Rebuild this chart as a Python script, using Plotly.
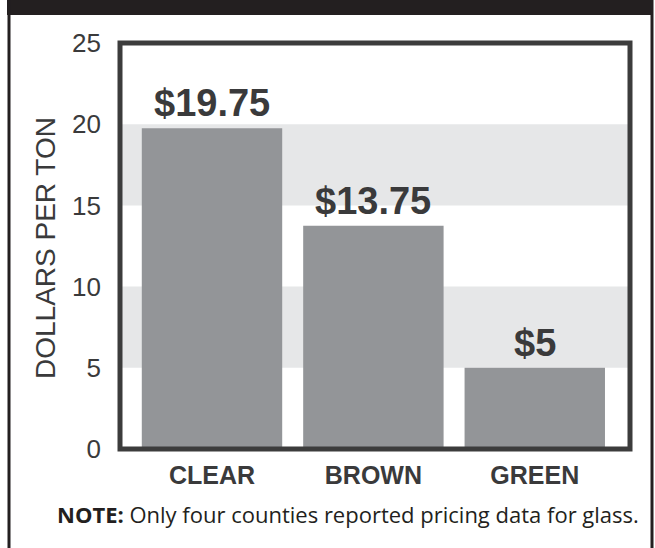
import plotly.graph_objects as go

categories = ["CLEAR", "BROWN", "GREEN"]
prices = [19.75, 13.75, 5]
price_labels = ["$19.75", "$13.75", "$5"]
y_ticks = [0, 5, 10, 15, 20, 25]
bands = [(5, 10), (15, 20)]
note_bold = "NOTE:"
note_text = "Only four counties reported pricing data for glass."
y_title = "DOLLARS PER TON"

W, H = 655, 548
L, R, T, B = 120, 25, 43, 99
pw, ph = W - L - R, H - T - B

def px(x):
    return (x - L) / pw

def py(y):
    return (H - B - y) / ph

fig = go.Figure()
fig.add_trace(go.Bar(
    x=categories, y=prices, width=0.87,
    marker=dict(color="#939598", line=dict(width=0)),
    hoverinfo="skip",
))

shapes = []
for lo, hi in bands:
    shapes.append(dict(type="rect", xref="paper", yref="y", x0=0, x1=1, y0=lo, y1=hi,
                       fillcolor="#e6e7e8", line=dict(width=0), layer="below"))
# plot frame
shapes.append(dict(type="rect", xref="paper", yref="paper", x0=0, x1=1, y0=0, y1=1,
                   line=dict(color="#3c3c3c", width=5), layer="above"))
# outer black top band and side borders
shapes.append(dict(type="rect", xref="paper", yref="paper", x0=px(7), x1=px(653),
                   y0=py(15), y1=py(-5), fillcolor="#231f20", line=dict(width=0), layer="above"))
shapes.append(dict(type="rect", xref="paper", yref="paper", x0=px(7.5), x1=px(10.5),
                   y0=py(560), y1=py(0), fillcolor="#231f20", line=dict(width=0), layer="above"))
shapes.append(dict(type="rect", xref="paper", yref="paper", x0=px(650.5), x1=px(653.5),
                   y0=py(560), y1=py(0), fillcolor="#231f20", line=dict(width=0), layer="above"))

annotations = []
for c, v, lab in zip(categories, prices, price_labels):
    annotations.append(dict(x=c, y=v, xref="x", yref="y", text=lab, showarrow=False,
                            yanchor="bottom", yshift=2,
                            font=dict(family="Liberation Sans, Arial", size=38, color="#3a3a3b", weight="bold")))
annotations.append(dict(x=px(45), y=py(248), xref="paper", yref="paper", text=y_title, textangle=-90,
                        showarrow=False, xanchor="center", yanchor="middle",
                        font=dict(family="Liberation Sans, Arial", size=28, color="#3a3a3b")))
annotations.append(dict(x=px(348), y=py(514), xref="paper", yref="paper",
                        text=f"<b>{note_bold}</b> {note_text}", showarrow=False,
                        xanchor="center", yanchor="middle",
                        font=dict(family="Open Sans, Noto Sans", size=22, color="#231f20")))

fig.update_layout(
    width=W, height=H,
    margin=dict(l=L, r=R, t=T, b=B, autoexpand=False),
    paper_bgcolor="white", plot_bgcolor="white",
    showlegend=False, bargap=0.13,
    shapes=shapes, annotations=annotations,
)
fig.update_xaxes(range=[-0.57, 2.59], showgrid=False, zeroline=False, showline=False,
                 ticks="", ticklabelstandoff=9,
                 tickfont=dict(family="Liberation Sans, Arial", size=25, color="#3a3a3b", weight="bold"))
fig.update_yaxes(range=[0, 25], tickvals=y_ticks, showgrid=False, zeroline=False, showline=False,
                 ticks="", ticklabelstandoff=18,
                 tickfont=dict(family="Liberation Sans, Arial", size=26, color="#3a3a3b"))

fig.write_html("out.html", config={"displayModeBar": False},
               post_script="document.body.style.margin='0';document.body.style.overflow='hidden';")
